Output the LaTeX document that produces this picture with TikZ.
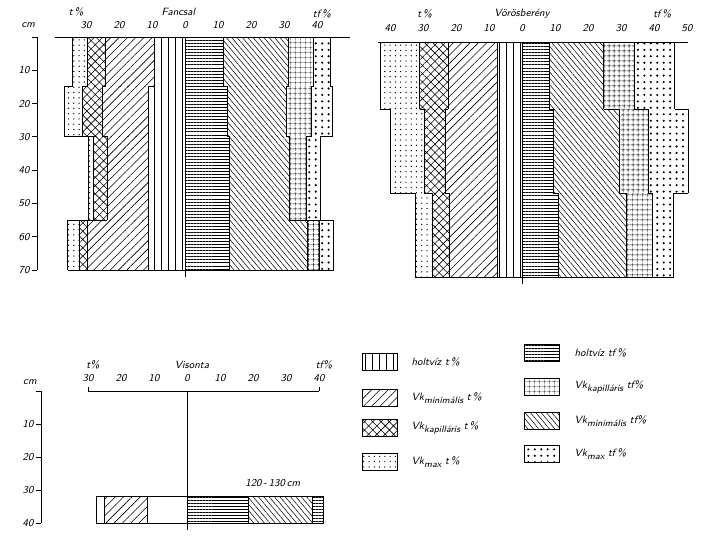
\documentclass[tikz,border=0pt]{standalone}
\usetikzlibrary{patterns,patterns.meta}
\tikzset{
  pmaxt/.style={pattern={Dots[distance=4.5pt,radius=0.6pt]}},
  pkapt/.style={pattern={Hatch[angle=45,distance=5pt,line width=0.5pt]}},
  pmint/.style={pattern={Lines[angle=45,distance=5pt,line width=0.5pt]}},
  pholtt/.style={pattern={Lines[angle=90,distance=6pt,line width=0.7pt]}},
  pholttf/.style={pattern={Lines[angle=0,distance=2.6pt,line width=0.4pt]}},
  pmintf/.style={pattern={Lines[angle=-50,distance=3.5pt,line width=0.45pt]}},
  pkaptf/.style={pattern={Hatch[angle=0,distance=4pt,line width=0.4pt]}},
  pmaxtf/.style={pattern={Dots[distance=5.5pt,radius=1pt]}},
  lbl/.style={font=\sffamily\itshape\small, inner sep=1pt},
}
\newcommand\lsub[1]{\raisebox{-0.6ex}{\footnotesize #1}}
% one stepped profile: depth from/to, then the eight boundaries
\newcommand\profile[1]{%
  \xdef\pma{0}\xdef\pka{0}\xdef\pna{0}\xdef\pha{0}%
  \xdef\phb{0}\xdef\pnb{0}\xdef\pkb{0}\xdef\pmb{0}%
  \foreach \da/\db/\ma/\ka/\na/\ha/\hb/\nb/\kb/\mb in {#1}{
    \fill[pmaxt] (\ma,\da) rectangle (\ka,\db);
    \fill[pkapt] (\ka,\da) rectangle (\na,\db);
    \fill[pmint] (\na,\da) rectangle (\ha,\db);
    \fill[pholtt] (\ha,\da) rectangle (0,\db);
    \fill[pholttf] (0,\da) rectangle (\hb,\db);
    \fill[pmintf] (\hb,\da) rectangle (\nb,\db);
    \fill[pkaptf] (\nb,\da) rectangle (\kb,\db);
    \fill[pmaxtf] (\kb,\da) rectangle (\mb,\db);
    \foreach \x/\p in {\ma/\pma,\ka/\pka,\na/\pna,\ha/\pha,\hb/\phb,\nb/\pnb,\kb/\pkb,\mb/\pmb}
      \draw (\p,\da) -- (\x,\da) -- (\x,\db);
    \xdef\pma{\ma}\xdef\pka{\ka}\xdef\pna{\na}\xdef\pha{\ha}%
    \xdef\phb{\hb}\xdef\pnb{\nb}\xdef\pkb{\kb}\xdef\pmb{\mb}%
  }
  \draw (\pma,70) -- (\pmb,70);
}
\begin{document}
\begin{tikzpicture}[x=0.03cm,y=-0.03cm,thick]
\useasboundingbox (0,0) rectangle (702,546);

% Fancsal
\begin{scope}[shift={(185,37)},xscale=3.3,yscale=3.33]
\profile{0/15/-34/-29.7/-24/-9.4/11.8/31.3/38.8/44,
  15/30/-36.4/-31/-25/-11/13/30.6/38.4/44.8,
  30/55/-29.4/-27.6/-23.5/-11/13.6/31.6/36.7/41,
  55/70/-35.5/-32/-29.7/-11/13.6/37/40.6/45}
\draw (-39.4,0) -- (50,0);
\draw (0,0) -- (0,72);
\draw (-44.8,0) -- (-44.8,70);
\foreach \d in {0,10,...,70} \draw (-46.3,\d) -- (-44.8,\d);
\foreach \d in {10,20,...,70} \node[lbl,anchor=east] at (-46.6,\d) {\d};
\node[lbl] (fcm) at (-47.5,-3.6) {cm};
\foreach \v/\t in {-30/30,-20/20,-10/10,0/0,10/10,20/20,30/30,40/40}
  \node[lbl] at (\v,-3.6) {\t};
\node[lbl] (ft) at (-33,-7.5) {t\,\%};
\node[lbl] (fancsal) at (-2,-7.5) {Fancsal};
\node[lbl] (ftf) at (41.5,-7) {tf\,\%};
\end{scope}

% Vorosbereny
\begin{scope}[shift={(522,42)},xscale=3.3,yscale=3.36]
\profile{0/20/-43/-31/-22.4/-7.3/8.2/24.8/34/46.3,
  20/45/-40/-29.7/-23.3/-7.3/9.5/29.4/38.3/50.4,
  45/70/-32.4/-27/-22/-7.3/10.9/31.7/39.5/46}
\draw (-43.6,0) -- (50.4,0);
\draw (0,0) -- (0,72);
\foreach \v/\t in {-40/40,-30/30,-20/20,-10/10,0/0,10/10,20/20,30/30,40/40,50/50}
  \node[lbl] at (\v,-4.2) {\t};
\node[lbl] (vt) at (-29.5,-8.3) {t\,\%};
\node[lbl] (vorosbereny) at (0,-8.3) {Vörösberény};
\node[lbl] (vtf) at (42.5,-8.3) {tf\,\%};
\end{scope}

% Visonta
\begin{scope}[shift={(187,391)},xscale=3.3,yscale=3.3]
\fill[pmint] (-25,32) rectangle (-12,40);
\fill[pholttf] (0,32) rectangle (18.5,40);
\fill[pmintf] (18.5,32) rectangle (38,40);
\fill[pholttf] (38,32) rectangle (41.5,40);
\draw (-27.3,32) rectangle (41.5,40);
\foreach \x in {-25,-12,0,18.5,38} \draw (\x,32) -- (\x,40);
\draw (-30,0) -- (40,0);
\draw (-30,0) -- (-30,-1.2) (40,0) -- (40,-1.2);
\draw (0,0) -- (0,42);
\draw (-44.2,0) -- (-44.2,40);
\foreach \d in {0,10,...,40} \draw (-45.7,\d) -- (-44.2,\d);
\foreach \d in {10,20,...,40} \node[lbl,anchor=east] at (-46,\d) {\d};
\node[lbl] (vicm) at (-47.6,-2.7) {cm};
\foreach \v/\t in {-30/30,-20/20,-10/10,0/0,10/10,20/20,30/30,40/40}
  \node[lbl] at (\v,-3.9) {\t};
\node[lbl] (vit) at (-28.5,-7.9) {t\%};
\node[lbl] (visonta) at (1.5,-7.9) {Visonta};
\node[lbl] (vitf) at (41.5,-7.9) {tf\%};
\node[lbl] (depth) at (26,28) {120\,-\,130\,cm};
\end{scope}

% legend
\foreach \s/\y/\t in {pholtt/362/holtvíz t\,\%,
    pmint/398/Vk\lsub{minimális} t\,\%,
    pkapt/428/Vk\lsub{kapilláris} t\,\%,
    pmaxt/462/Vk\lsub{max} t\,\%}{
  \draw[\s] (362,\y-8.5) rectangle (397,\y+8.5);
  \node[lbl,anchor=west] at (410,\y) {\t};
}
\foreach \s/\y/\t in {pholttf/353/holtvíz tf\,\%,
    pkaptf/387/Vk\lsub{kapilláris} tf\%,
    pmintf/421/Vk\lsub{minimális} tf\%,
    pmaxtf/454/Vk\lsub{max} tf\,\%}{
  \draw[\s] (524,\y-8.5) rectangle (559,\y+8.5);
  \node[lbl,anchor=west] at (573,\y) {\t};
}
\end{tikzpicture}
\end{document}
